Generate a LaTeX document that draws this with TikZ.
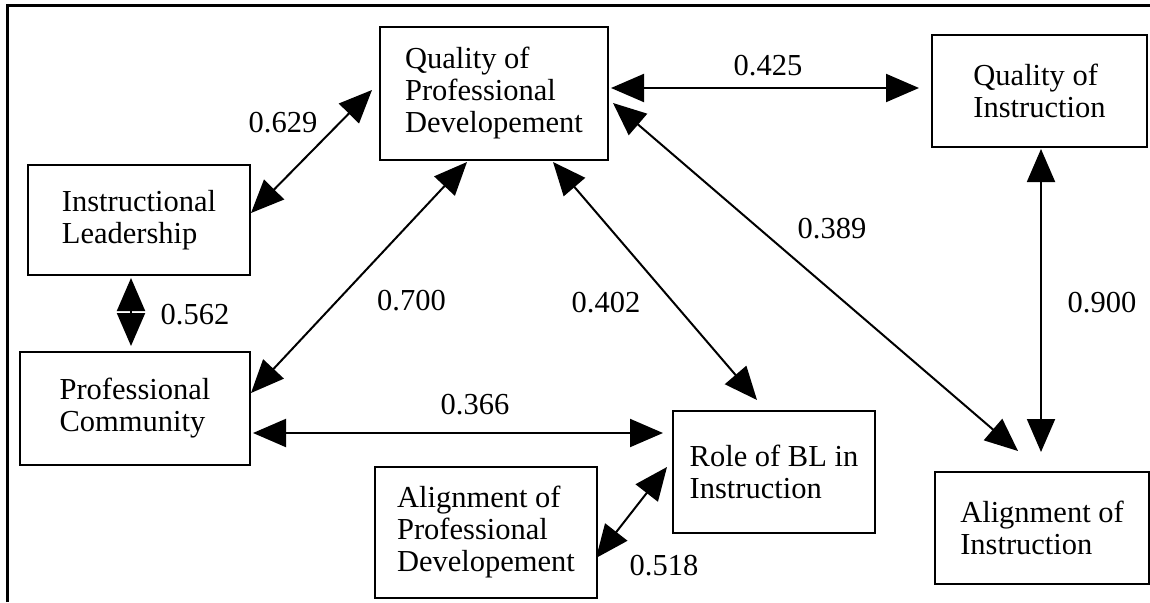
\documentclass[tikz,border=0pt]{standalone}
\usepackage{fontspec}
\setmainfont{Liberation Serif}
\usetikzlibrary{arrows.meta,calc,positioning}

\begin{document}
\begin{tikzpicture}[
  x=1pt, y=-1pt,
  line width=2pt,
  font=\fontsize{30.5}{32}\selectfont,
  mybox/.style={
    draw,
    align=left,
    inner sep=0pt
  },
  myarrow/.style={
    {Triangle[length=33pt,width=28pt]}-{Triangle[length=33pt,width=28pt]}
  },
  mylabel/.style={inner sep=0pt}
]
\useasboundingbox (0,0) rectangle (1150,602);
\draw [line width=3pt] (7.5,602) -- (7.5,5.5) -- (1150,5.5);

\node [mybox, minimum width=228pt, minimum height=133pt] (qpd) at (494,93.5)
  {Quality of\\Professional\\Developement};
\node [mybox, minimum width=215pt, minimum height=112pt] (qi) at (1039.5,91)
  {Quality of\\Instruction};
\node [mybox, minimum width=222pt, minimum height=110pt] (il) at (139,220)
  {Instructional\\Leadership};
\node [mybox, minimum width=230pt, minimum height=113pt] (pc) at (135,408.5)
  {Professional\\Community};
\node [mybox, minimum width=202pt, minimum height=122pt] (rbl) at (774,472)
  {Role of BL in\\Instruction};
\node [mybox, minimum width=222pt, minimum height=131pt] (apd) at (486,532.5)
  {Alignment of\\Professional\\Developement};
\node [mybox, minimum width=214pt, minimum height=112pt] (ai) at (1042,528)
  {Alignment of\\Instruction};

\draw [myarrow] ($(il.east)+(0,-7)$) -- node [mylabel, xshift=-28.5pt, yshift=28.5pt] {0.629} ($(qpd.west)+(-7,-3.5)$);
\draw [myarrow] ($(il.south)+(-8,2)$) -- node [mylabel, xshift=64pt, yshift=-3pt] {0.562} ($(pc.north)+(-4,-5)$);
\draw [myarrow] ($(pc.east)+(0,-15.5)$) -- node [mylabel, xshift=52.5pt, yshift=-23.5pt] {0.700} ($(qpd.south)+(-27,1)$);
\draw [myarrow] ($(qpd.south)+(59,1)$) -- node [mylabel, xshift=-49pt, yshift=-21.5pt] {0.402} ($(rbl.north)+(-17,-10)$);
\draw [myarrow] ($(pc.east)+(2,24.5)$) -- node [mylabel, xshift=17pt, yshift=28pt] {0.366} ($(rbl.west)+(-9,-39)$);
\draw [myarrow] ($(qpd.east)+(2,-5.5)$) -- node [mylabel, xshift=3pt, yshift=22pt] {0.425} ($(qi.west)+(-12,-3)$);
\draw [myarrow] ($(qpd.east)+(4,9.5)$) -- node [mylabel, xshift=16.5pt, yshift=48.5pt] {0.389} ($(ai.north)+(-24,-20)$);
\draw [myarrow] ($(qi.south)+(1.5,1)$) -- node [mylabel, xshift=61pt, yshift=-2.5pt] {0.900} ($(ai.north)+(-1,-19)$);
\draw [myarrow] ($(apd.east)+(-2,25.5)$) -- node [mylabel, xshift=32.5pt, yshift=-53.5pt] {0.518} ($(rbl.west)+(-5,-5)$);

\end{tikzpicture}
\end{document}
